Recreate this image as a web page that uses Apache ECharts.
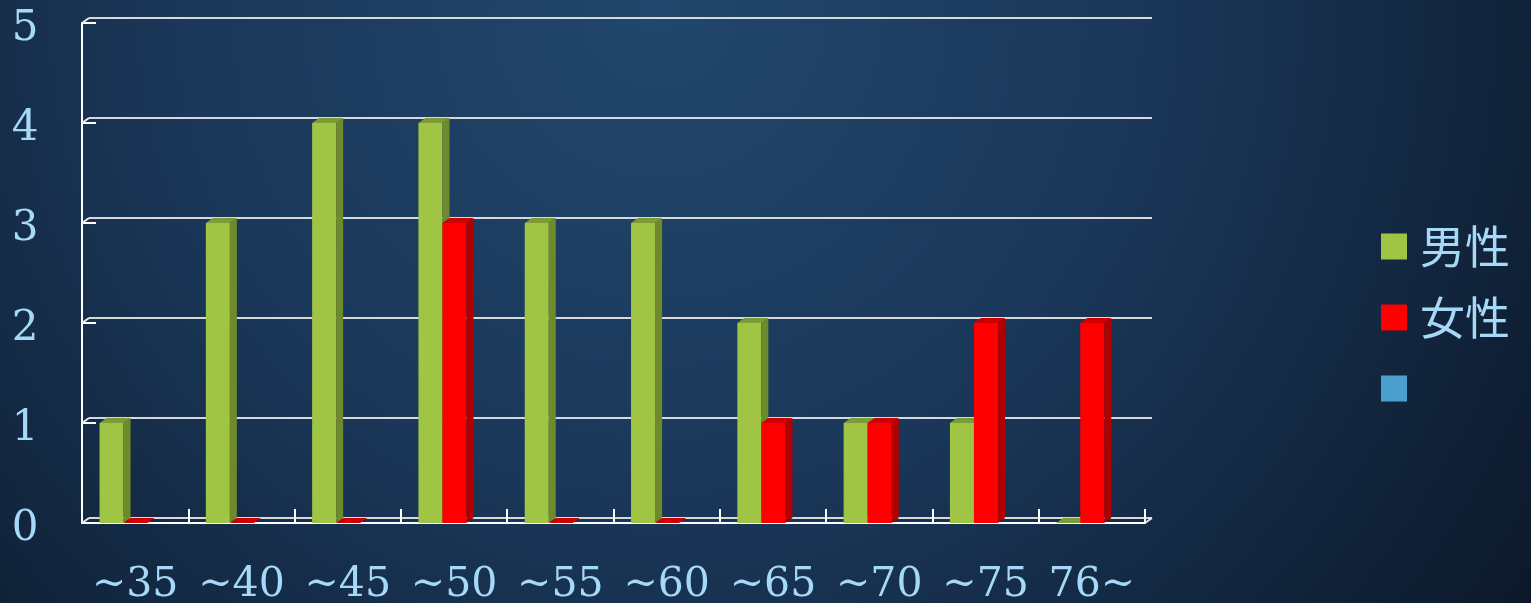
<!DOCTYPE html>
<html>
<head>
<meta charset="utf-8">
<script src="https://cdn.jsdelivr.net/npm/echarts@6/dist/echarts.min.js"></script>
<style>
html,body{margin:0;padding:0;background:#0C1828;}
#c{width:1531px;height:603px;}
</style>
</head>
<body>
<div id="c"></div>
<script>
const categories = ['~35','~40','~45','~50','~55','~60','~65','~70','~75','76~'];
const male = [1,3,4,4,3,3,2,1,1,0];
const female = [0,0,0,3,0,0,1,1,2,2];
const yTicks = [0,1,2,3,4,5];
const seriesNames = ['男性','女性',' '];

const DX = 7, DY = -5;
const txt = '#A6D8F7';
const serif = '"DejaVu Serif", "Liberation Serif", serif';

function barRender(slot, front, side, top) {
  return function (params, api) {
    const ci = api.value(0), v = api.value(1);
    const base = api.coord([ci, 0]);
    const tp = api.coord([ci, v]);
    const bw = api.size([1, 0])[0];
    const w = 0.226 * bw;
    const x0 = base[0] - 0.335 * bw + slot * w;
    const yT = tp[1], yB = base[1];
    const children = [];
    if (yB - yT > 0.5) {
      children.push({type:'rect', shape:{x:x0, y:yT, width:w, height:yB - yT}, style:{fill:front}});
      children.push({type:'polygon', shape:{points:[[x0+w,yT],[x0+w+DX,yT+DY],[x0+w+DX,yB+DY],[x0+w,yB]]}, style:{fill:side}});
    }
    children.push({type:'polygon', shape:{points:[[x0,yT],[x0+DX,yT+DY],[x0+w+DX,yT+DY],[x0+w,yT]]}, style:{fill:top}});
    return {type:'group', children};
  };
}

function connRender(params, api) {
  const v = api.value(0);
  const c = api.coord([0, v]);
  const bw = api.size([1, 0])[0];
  const xl = c[0] - bw / 2;
  const els = [{type:'line', shape:{x1:xl, y1:c[1], x2:xl+DX, y2:c[1]+DY}, style:{stroke:'#E8E8E8', lineWidth:2}}];
  if (v === 0) {
    const cr = api.coord([categories.length - 1, 0]);
    const xr = cr[0] + bw / 2;
    els.push({type:'line', shape:{x1:xr, y1:cr[1], x2:xr+DX, y2:cr[1]+DY}, style:{stroke:'#E8E8E8', lineWidth:2}});
  }
  return {type:'group', children: els};
}

const chart = echarts.init(document.getElementById('c'));
chart.setOption({
  animation: false,
  backgroundColor: {
    type:'radial', x:0.43, y:0.02, r:1.8,
    colorStops:[{offset:0,color:'#21476C'},{offset:0.45,color:'#1A3759'},{offset:1,color:'#0B1727'}]
  },
  legend: {
    orient:'vertical', left:1381, top:224, padding:0, itemWidth:26, itemHeight:26, itemGap:26,
    icon:'rect',
    textStyle:{color:txt, fontSize:45, lineHeight:45, fontFamily:'"Noto Sans CJK JP", sans-serif', padding:[0,0,0,8]},
    data:[
      {name:seriesNames[0], itemStyle:{color:'#A0C544'}},
      {name:seriesNames[1], itemStyle:{color:'#FF0000'}},
      {name:seriesNames[2], itemStyle:{color:'#4BA0D0'}}
    ],
    selectedMode:false
  },
  grid: [
    {left:82, top:23, width:1063, height:500, containLabel:false, outerBoundsMode:'none'},
    {left:89, top:18, width:1063, height:500, containLabel:false, outerBoundsMode:'none'}
  ],
  xAxis: [
    {type:'category', gridIndex:0, data:categories,
     axisLine:{lineStyle:{color:'#FFFFFF', width:2}},
     axisTick:{show:true, inside:true, length:14, interval:0, lineStyle:{color:'#FFFFFF', width:2}},
     axisLabel:{color:txt, fontSize:41, fontFamily:serif, margin:42, interval:0, hideOverlap:false},
     splitLine:{show:false}},
    {type:'category', gridIndex:1, data:categories, show:false}
  ],
  yAxis: [
    {type:'value', gridIndex:0, min:0, max:5, interval:1,
     axisLine:{show:true, lineStyle:{color:'#FFFFFF', width:2}},
     axisTick:{show:true, inside:true, length:14, lineStyle:{color:'#FFFFFF', width:2}},
     axisLabel:{color:txt, fontSize:42, fontFamily:serif, align:'center', margin:57, verticalAlign:'top', lineHeight:12},
     splitLine:{show:false}},
    {type:'value', gridIndex:1, min:0, max:5, interval:1,
     axisLine:{show:false}, axisTick:{show:false}, axisLabel:{show:false},
     splitLine:{show:true, lineStyle:{color:'#D8D8D8', width:2}}}
  ],
  series: [
    {name:'conn', type:'custom', xAxisIndex:0, yAxisIndex:0, silent:true, z:1,
     data:yTicks.map(v => [v]), renderItem:connRender},
    {name:seriesNames[0], type:'custom', xAxisIndex:0, yAxisIndex:0, silent:true, z:3,
     itemStyle:{color:'#A0C544'},
     data:male.map((v,i) => [i, v]),
     renderItem:barRender(0, '#A0C544', '#6E8A2C', '#7E9C35')},
    {name:seriesNames[1], type:'custom', xAxisIndex:0, yAxisIndex:0, silent:true, z:4,
     itemStyle:{color:'#FF0000'},
     data:female.map((v,i) => [i, v]),
     renderItem:barRender(1, '#FF0000', '#B00000', '#D00000')},
    {name:seriesNames[2], type:'custom', xAxisIndex:0, yAxisIndex:0, silent:true,
     itemStyle:{color:'#4BA0D0'},
     data:[], renderItem:function(){ return null; }}
  ]
});
</script>
</body>
</html>
